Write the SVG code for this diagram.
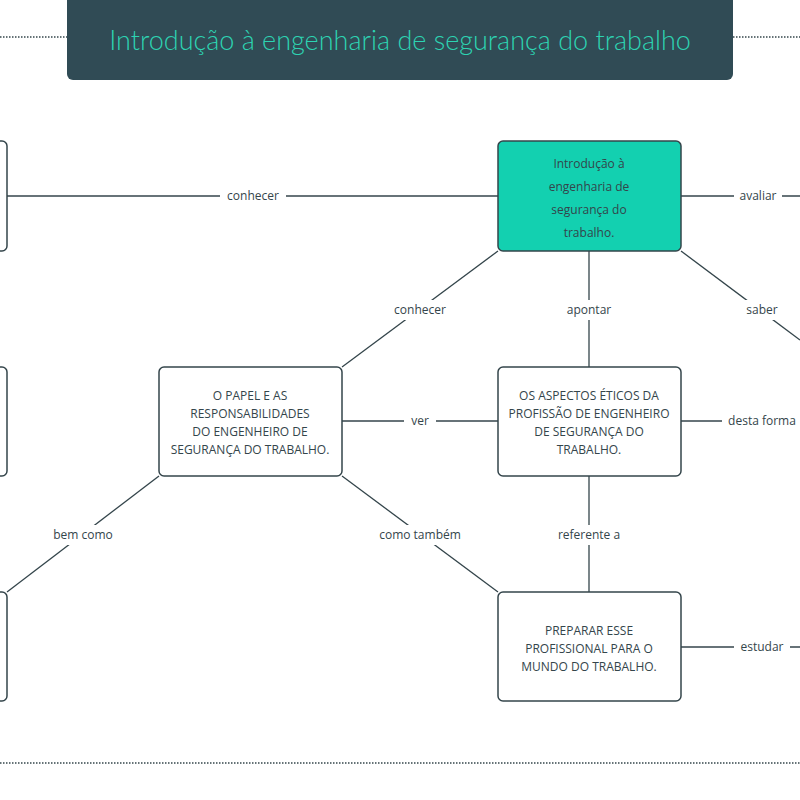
<svg xmlns="http://www.w3.org/2000/svg" width="800" height="800" viewBox="0 0 800 800">
<style>
.n{fill:#fff;stroke:#34454b;stroke-width:1.5}
.c line{stroke:#34454b;stroke-width:1.3}
.l{font-family:"Open Sans","Noto Sans",sans-serif;font-size:12px;fill:#34454b;text-anchor:middle}
.t{font-family:"Open Sans","Noto Sans",sans-serif;font-size:12px;fill:#34454b;text-anchor:middle}
.d{stroke:#34454b;stroke-width:1.5;stroke-dasharray:1.5 1.5}
</style>
<rect width="800" height="800" fill="#fff"/>
<line class="d" x1="0" y1="37" x2="67" y2="37"/>
<line class="d" x1="733" y1="37" x2="800" y2="37"/>
<line class="d" x1="0" y1="763" x2="800" y2="763"/>
<g id="title">
<rect x="67" y="-10" width="666" height="90" rx="6" fill="#304b55"/>
<text x="400" y="50" font-family="Lato,'Open Sans',sans-serif" font-weight="300" font-size="27" fill="#2dd3b2" text-anchor="middle">Introdução à engenharia de segurança do trabalho</text>
</g>
<g class="c" id="connectors">
<line x1="7" y1="196" x2="498" y2="196"/>
<line x1="681" y1="196" x2="800" y2="196"/>
<line x1="498" y1="251" x2="342" y2="367"/>
<line x1="589" y1="251" x2="589" y2="367"/>
<line x1="681" y1="251" x2="800" y2="340"/>
<line x1="342" y1="421" x2="498" y2="421"/>
<line x1="681" y1="421" x2="800" y2="421"/>
<line x1="159" y1="476" x2="7" y2="592"/>
<line x1="342" y1="476" x2="498" y2="592"/>
<line x1="589" y1="476" x2="589" y2="592"/>
<line x1="681" y1="647" x2="800" y2="647"/>
<g>
<rect x="220" y="186" width="66" height="20" fill="#fff"/>
<rect x="734" y="186" width="48" height="20" fill="#fff"/>
<rect x="386" y="300" width="68" height="20" fill="#fff"/>
<rect x="560" y="300" width="58" height="20" fill="#fff"/>
<rect x="740" y="300" width="44" height="20" fill="#fff"/>
<rect x="404" y="411" width="32" height="20" fill="#fff"/>
<rect x="722" y="411" width="78" height="20" fill="#fff"/>
<rect x="46" y="525" width="74" height="20" fill="#fff"/>
<rect x="372" y="525" width="96" height="20" fill="#fff"/>
<rect x="550" y="525" width="78" height="20" fill="#fff"/>
<rect x="734" y="637" width="56" height="20" fill="#fff"/>
</g>
<text class="l" x="253" y="200">conhecer</text>
<text class="l" x="758" y="200">avaliar</text>
<text class="l" x="420" y="314">conhecer</text>
<text class="l" x="589" y="314">apontar</text>
<text class="l" x="762" y="314">saber</text>
<text class="l" x="420" y="425">ver</text>
<text class="l" x="762" y="425">desta forma</text>
<text class="l" x="83" y="539">bem como</text>
<text class="l" x="420" y="539">como também</text>
<text class="l" x="589" y="539">referente a</text>
<text class="l" x="762" y="651">estudar</text>
</g>
<g id="left1"><rect class="n" x="-10" y="141" width="17" height="110" rx="5"/></g>
<g id="left2"><rect class="n" x="-10" y="367" width="17" height="109" rx="5"/></g>
<g id="left3"><rect class="n" x="-10" y="592" width="17" height="109" rx="5"/></g>
<g id="center">
<rect x="498" y="141" width="183" height="110" rx="5" fill="#13d0b0" stroke="#34454b" stroke-width="1.5"/>
<text class="t" font-size="15"><tspan x="589" y="168">Introdução à</tspan><tspan x="589" y="191">engenharia de</tspan><tspan x="589" y="214">segurança do</tspan><tspan x="589" y="237">trabalho.</tspan></text>
</g>
<g id="papel">
<rect class="n" x="159" y="367" width="183" height="109" rx="5"/>
<text class="t"><tspan x="250" y="400">O PAPEL E AS</tspan><tspan x="250" y="418">RESPONSABILIDADES</tspan><tspan x="250" y="436">DO ENGENHEIRO DE</tspan><tspan x="250" y="454">SEGURANÇA DO TRABALHO.</tspan></text>
</g>
<g id="aspectos">
<rect class="n" x="498" y="367" width="183" height="109" rx="5"/>
<text class="t"><tspan x="589" y="400">OS ASPECTOS ÉTICOS DA</tspan><tspan x="589" y="418">PROFISSÃO DE ENGENHEIRO</tspan><tspan x="589" y="436">DE SEGURANÇA DO</tspan><tspan x="589" y="454">TRABALHO.</tspan></text>
</g>
<g id="preparar">
<rect class="n" x="498" y="592" width="183" height="109" rx="5"/>
<text class="t"><tspan x="589" y="635">PREPARAR ESSE</tspan><tspan x="589" y="653">PROFISSIONAL PARA O</tspan><tspan x="589" y="671">MUNDO DO TRABALHO.</tspan></text>
</g>
</svg>
